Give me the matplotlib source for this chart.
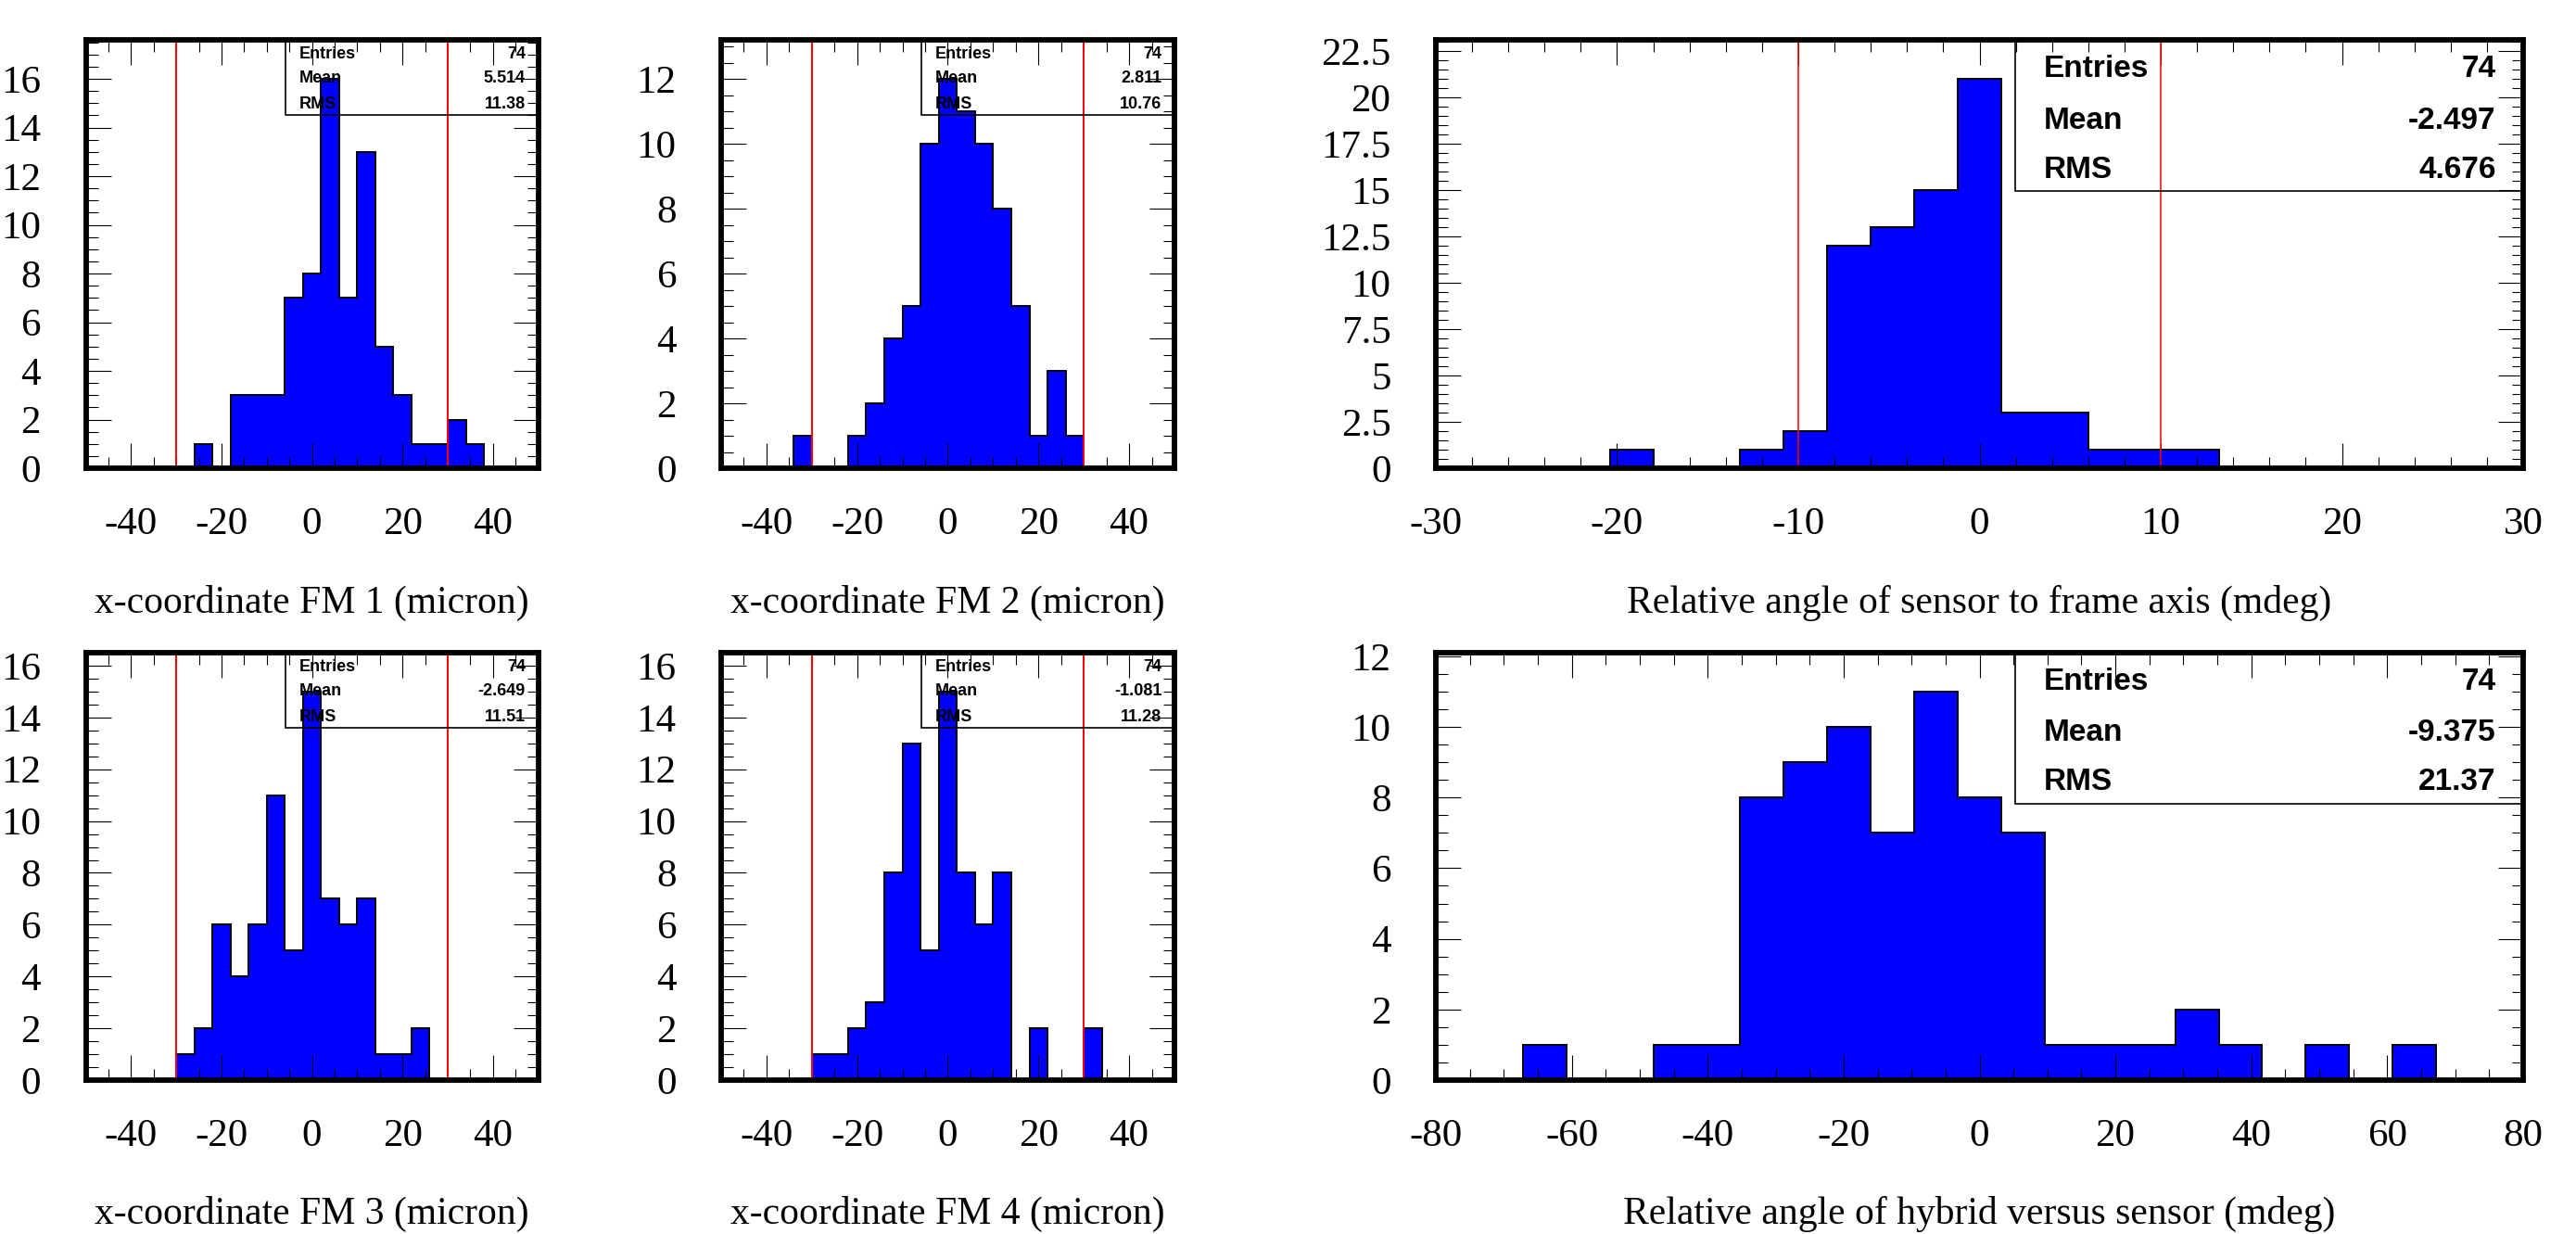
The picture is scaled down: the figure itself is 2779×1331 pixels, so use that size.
import numpy as np
import matplotlib
matplotlib.use('Agg')
import matplotlib.pyplot as plt
from matplotlib.ticker import MultipleLocator, FuncFormatter
from matplotlib.patches import Rectangle

plt.rcParams['axes.unicode_minus'] = False

# bin contents, 25 bins each
fm1_counts = [0, 0, 0, 0, 0, 0, 1, 0, 3, 3, 3, 7, 8, 16, 7, 13, 5, 3, 1, 1, 2, 1, 0, 0, 0]
fm2_counts = [0, 0, 0, 0, 1, 0, 0, 1, 2, 4, 5, 10, 12, 11, 10, 8, 5, 1, 3, 1, 0, 0, 0, 0, 0]
fm3_counts = [0, 0, 0, 0, 0, 1, 2, 6, 4, 6, 11, 5, 15, 7, 6, 7, 1, 1, 2, 0, 0, 0, 0, 0, 0]
fm4_counts = [0, 0, 0, 0, 0, 1, 1, 2, 3, 8, 13, 5, 15, 8, 6, 8, 0, 2, 0, 0, 2, 0, 0, 0, 0]
angle_counts = [0, 0, 0, 0, 1, 0, 0, 1, 2, 12, 13, 15, 21, 3, 3, 1, 1, 1, 0, 0, 0, 0, 0, 0, 0]
hybrid_counts = [0, 0, 1, 0, 0, 1, 1, 8, 9, 10, 7, 11, 8, 7, 1, 1, 1, 2, 1, 0, 1, 0, 1, 0, 0]

fm_range = (-50, 50)
angle_range = (-30, 30)
hybrid_range = (-80, 80)

fm_cuts = [-30, 30]
angle_cuts = [-10, 10]

titles = ['x-coordinate FM 1 (micron)', 'x-coordinate FM 2 (micron)',
          'Relative angle of sensor to frame axis (mdeg)',
          'x-coordinate FM 3 (micron)', 'x-coordinate FM 4 (micron)',
          'Relative angle of hybrid versus sensor (mdeg)']

entries = [74, 74, 74, 74, 74, 74]
means = ['5.514', '2.811', '-2.497', '-2.649', '-1.081', '-9.375']
rms = ['11.38', '10.76', '4.676', '11.51', '11.28', '21.37']

W, H = 2779, 1331
fig = plt.figure(figsize=(W / 100, H / 100), dpi=100)


def rect(x0, x1, y0, y1):
    # pixel box -> figure fraction
    return [x0 / W, 1 - y1 / H, (x1 - x0) / W, (y1 - y0) / H]


def draw_hist(box, counts, xr, xmaj, xmin, ymaj, cuts, title, stats, big):
    ax = fig.add_axes(box)
    edges = np.linspace(xr[0], xr[1], len(counts) + 1)
    ax.stairs(counts, edges, fill=True, color='#0000ff', zorder=1)
    ax.stairs(counts, edges, color='black', lw=1.4, baseline=0, zorder=1.2)
    for c in cuts:
        ax.axvline(c, color='#ff0000', lw=1.4 if not big else 1.1, zorder=2)
    ax.set_xlim(*xr)
    ax.set_ylim(0, 1.1 * max(counts))

    ax.xaxis.set_major_locator(MultipleLocator(xmaj))
    ax.xaxis.set_minor_locator(MultipleLocator(xmin))
    ax.yaxis.set_major_locator(MultipleLocator(ymaj))
    ax.yaxis.set_minor_locator(MultipleLocator(0.5))
    fmt = FuncFormatter(lambda v, p: '%g' % v)
    ax.xaxis.set_major_formatter(fmt)
    ax.yaxis.set_major_formatter(fmt)
    ax.tick_params(which='both', direction='in', top=True, right=True, width=0.8)
    ax.tick_params(which='major', length=19.5, labelsize=31)
    ax.tick_params(which='minor', length=9)
    ax.tick_params(axis='x', pad=30)
    ax.tick_params(axis='y', pad=35)
    for lab in ax.get_xticklabels() + ax.get_yticklabels():
        lab.set_family('Liberation Serif')
    for s in ax.spines.values():
        s.set_linewidth(4.2)
        s.set_zorder(4)

    ax.text(0.5, -145 / 462, title, transform=ax.transAxes, ha='center', va='center',
            fontsize=30, family='Liberation Serif')

    # stats box
    if big:
        bx, by, tx, vx, rows, fs = 0.533, 0.647, 0.559, 0.975, [0.913, 0.793, 0.678], 24
    else:
        bx, by, tx, vx, rows, fs = 0.441, 0.825, 0.471, 0.972, [0.956, 0.900, 0.839], 13
    ax.add_patch(Rectangle((bx, by), 1 - bx, 1 - by, transform=ax.transAxes,
                           fill=False, lw=1.2, edgecolor='black', zorder=3, clip_on=False))
    names = ['Entries', 'Mean', 'RMS']
    for name, val, yy in zip(names, stats, rows):
        ax.text(tx, yy, name, transform=ax.transAxes, ha='left', va='baseline',
                fontsize=fs, fontweight='bold', family='Liberation Sans', zorder=5)
        ax.text(vx, yy, val, transform=ax.transAxes, ha='right', va='baseline',
                fontsize=fs, fontweight='bold', family='Liberation Sans', zorder=5)
    return ax


top = (43, 505)
bot = (704, 1165)
c1 = (92.6, 580.6)
c2 = (778, 1267)
c3 = (1549, 2722)

draw_hist(rect(*c1, *top), fm1_counts, fm_range, 20, 5, 2, fm_cuts, titles[0],
          [str(entries[0]), means[0], rms[0]], False)
draw_hist(rect(*c2, *top), fm2_counts, fm_range, 20, 5, 2, fm_cuts, titles[1],
          [str(entries[1]), means[1], rms[1]], False)
draw_hist(rect(*c3, *top), angle_counts, angle_range, 10, 2, 2.5, angle_cuts, titles[2],
          [str(entries[2]), means[2], rms[2]], True)
draw_hist(rect(*c1, *bot), fm3_counts, fm_range, 20, 5, 2, fm_cuts, titles[3],
          [str(entries[3]), means[3], rms[3]], False)
draw_hist(rect(*c2, *bot), fm4_counts, fm_range, 20, 5, 2, fm_cuts, titles[4],
          [str(entries[4]), means[4], rms[4]], False)
draw_hist(rect(*c3, *bot), hybrid_counts, hybrid_range, 20, 5, 2, [], titles[5],
          [str(entries[5]), means[5], rms[5]], True)

fig.savefig('out.png', dpi=100, facecolor='white')
